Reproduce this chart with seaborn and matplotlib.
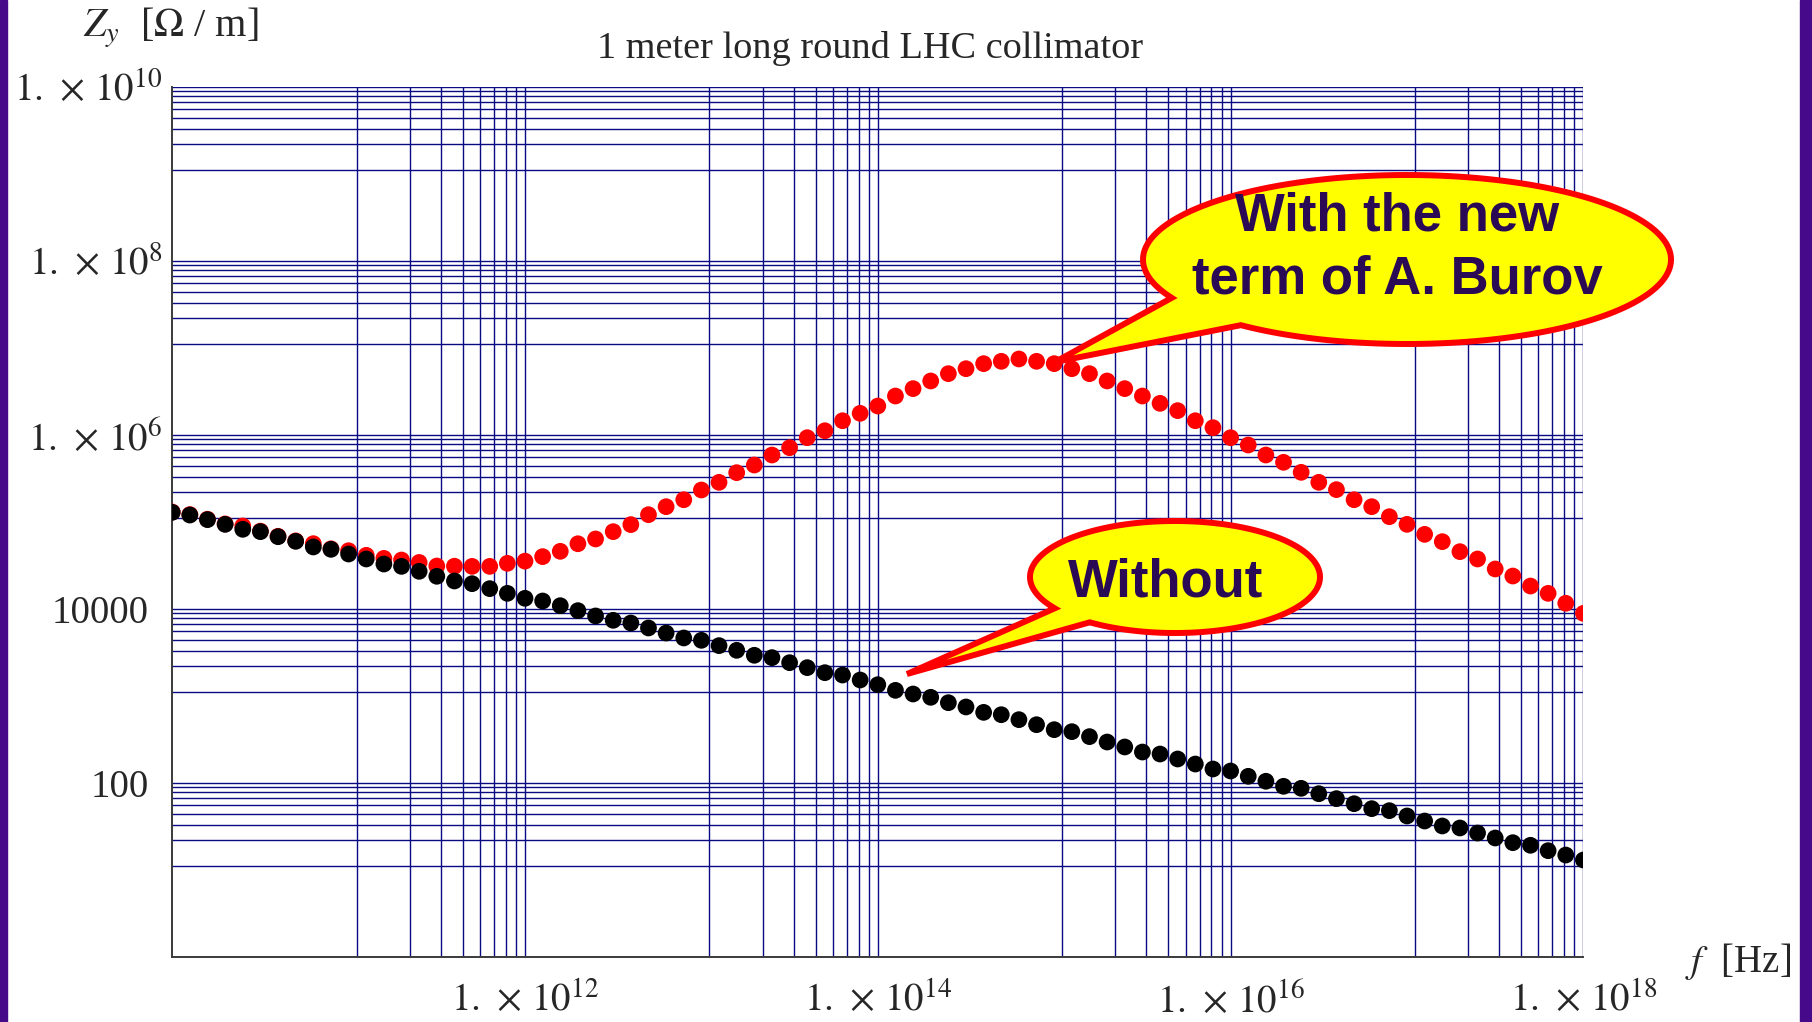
import numpy as np
import pandas as pd
import matplotlib
matplotlib.use('Agg')
import matplotlib.pyplot as plt
import matplotlib.transforms as mtransforms
import seaborn as sns
from matplotlib.path import Path
from matplotlib.patches import PathPatch, Rectangle

# frequency grid: 81 samples, 0.1 decade apart, from 1e10 to 1e18 Hz
log_f = np.arange(100, 181) / 10.0

# log10 of |Zy| in Ohm/m
log_zy_without = [
    5.111, 5.080, 5.027, 4.973, 4.916, 4.889, 4.831, 4.778, 4.713, 4.686,
    4.632, 4.575, 4.517, 4.490, 4.433, 4.376, 4.322, 4.291, 4.234, 4.180,
    4.123, 4.092, 4.038, 3.981, 3.920, 3.870, 3.839, 3.782, 3.724, 3.667,
    3.640, 3.579, 3.525, 3.468, 3.441, 3.383, 3.326, 3.268, 3.241, 3.184,
    3.130, 3.065, 3.023, 2.985, 2.923, 2.874, 2.812, 2.785, 2.728, 2.670,
    2.613, 2.590, 2.533, 2.471, 2.414, 2.356, 2.333, 2.276, 2.218, 2.161,
    2.138, 2.077, 2.020, 1.962, 1.939, 1.877, 1.820, 1.762, 1.705, 1.682,
    1.621, 1.563, 1.506, 1.483, 1.425, 1.368, 1.314, 1.284, 1.222, 1.172,
    1.115,
]
log_zy_burov = [
    5.115, 5.085, 5.032, 4.978, 4.954, 4.895, 4.836, 4.783, 4.751, 4.692,
    4.670, 4.617, 4.582, 4.563, 4.535, 4.494, 4.492, 4.490, 4.490, 4.525,
    4.550, 4.602, 4.663, 4.750, 4.805, 4.889, 4.970, 5.084, 5.176, 5.256,
    5.368, 5.456, 5.567, 5.655, 5.770, 5.854, 5.969, 6.049, 6.164, 6.249,
    6.333, 6.448, 6.533, 6.621, 6.705, 6.762, 6.820, 6.847, 6.874, 6.847,
    6.820, 6.762, 6.705, 6.621, 6.533, 6.448, 6.364, 6.280, 6.164, 6.084,
    5.969, 5.885, 5.770, 5.686, 5.571, 5.456, 5.372, 5.256, 5.176, 5.061,
    4.973, 4.858, 4.774, 4.659, 4.575, 4.460, 4.379, 4.264, 4.180, 4.066,
    3.950,
]

x_major = [1e12, 1e14, 1e16, 1e18]
x_labels = [r'$1.\,\times\,10^{12}$', r'$1.\,\times\,10^{14}$',
            r'$1.\,\times\,10^{16}$', r'$1.\,\times\,10^{18}$']
y_major = [1e2, 1e4, 1e6, 1e8, 1e10]
y_labels = ['100', '10000', r'$1.\,\times\,10^{6}$', r'$1.\,\times\,10^{8}$',
            r'$1.\,\times\,10^{10}$']

sns.set_style('white')
plt.rcParams['font.family'] = ['Liberation Serif', 'DejaVu Serif']
plt.rcParams['mathtext.fontset'] = 'stix'

df = pd.concat([
    pd.DataFrame({'f': 10 ** log_f, 'Zy': 10 ** np.array(log_zy_burov), 'case': 'burov'}),
    pd.DataFrame({'f': 10 ** log_f, 'Zy': 10 ** np.array(log_zy_without), 'case': 'without'}),
], ignore_index=True)

W, H = 1812, 1022
fig = plt.figure(figsize=(W / 100, H / 100), dpi=100)
fig.patch.set_facecolor('white')
ax = fig.add_axes([172.2 / W, 1 - 957 / H, (1583.4 - 172.2) / W, 870 / H])

sns.scatterplot(data=df, x='f', y='Zy', hue='case',
                palette={'burov': '#ff0000', 'without': '#000000'},
                s=145, linewidth=0, legend=False, ax=ax, zorder=3)
ax.set_xscale('log')
ax.set_yscale('log')
ax.set_xlim(1e10, 1e18)
ax.set_ylim(1, 1e10)

# grid lines: k/9 of each labelled decade, like the original
x_minor = [k / 9 * m for m in x_major for k in range(1, 9)]
y_minor = [k / 9 * m for m in y_major for k in range(1, 9)]
ax.set_xticks(x_major)
ax.set_xticklabels(x_labels)
ax.set_xticks(x_minor, minor=True)
ax.set_yticks(y_major)
ax.set_yticklabels(y_labels)
ax.set_yticks(y_minor, minor=True)
ax.tick_params(axis='both', which='major', direction='in', length=6, width=1,
               color='black', labelsize=28)
ax.tick_params(axis='both', which='minor', direction='in', length=3, width=1,
               color='black', labelleft=False, labelbottom=False)
ax.tick_params(axis='x', which='major', pad=18)
ax.tick_params(axis='y', which='major', pad=17)
ax.grid(True, which='both', color='#0a0a82', linewidth=1.0)
ax.set_axisbelow(True)
for side in ['top', 'right']:
    ax.spines[side].set_visible(False)
for side in ['left', 'bottom']:
    ax.spines[side].set_color('#3a3a3a')
    ax.spines[side].set_linewidth(1.4)
ax.set_xlabel('')
ax.set_ylabel('')

# labels with exponents stick out a little to the right, as in the original
shift = mtransforms.ScaledTranslation(14 / 100, 0, fig.dpi_scale_trans)
for lab in ax.get_yticklabels():
    if 'times' in lab.get_text():
        lab.set_transform(lab.get_transform() + shift)

fig.text(83 / W, 1 - 28 / H, r'$Z_y$  [$\Omega$ / m]', fontsize=29,
         ha='left', va='center')
fig.text(1685 / W, 1 - 961 / H, r'$f$  [Hz]', fontsize=28,
         ha='left', va='center')
fig.text(870 / W, 1 - 49 / H, '1 meter long round LHC collimator',
         fontsize=27.5, ha='center', va='center')


def callout(cx, cy, a, b, t_lo, t_hi, tip):
    t = np.radians(np.linspace(t_hi, t_lo + 360, 200))
    xs = cx + a * np.cos(t)
    ys = cy + b * np.sin(t)
    pts = list(zip(xs, ys)) + [tip, (xs[0], ys[0])]
    verts = [(px / W, 1 - py / H) for px, py in pts]
    codes = [Path.MOVETO] + [Path.LINETO] * (len(verts) - 2) + [Path.CLOSEPOLY]
    patch = PathPatch(Path(verts, codes), transform=fig.transFigure,
                      facecolor='#ffff00', edgecolor='#ff0000', lw=4.3,
                      joinstyle='miter', zorder=5)
    fig.add_artist(patch)


callout(1407, 259.5, 264, 84.5, 129, 153, (1055, 362))
callout(1175, 577, 145, 56, 126, 146, (907, 674))

txt_kw = dict(fontsize=38, fontweight='bold', color='#2a0a55',
              family=['Liberation Sans', 'DejaVu Sans'], ha='center',
              va='center', zorder=6)
fig.text(1397 / W, 1 - 248 / H, 'With the new\nterm of A. Burov',
         linespacing=1.35, **txt_kw)
fig.text(1166 / W, 1 - 582 / H, 'Without', **txt_kw)

# purple slide borders
fig.add_artist(Rectangle((0, 0), 7 / W, 1, transform=fig.transFigure,
                         color='#45098a', zorder=0))
fig.add_artist(Rectangle((1800 / W, 0), 12 / W, 1, transform=fig.transFigure,
                         color='#45098a', zorder=0))

fig.savefig('out.png', dpi=100)
